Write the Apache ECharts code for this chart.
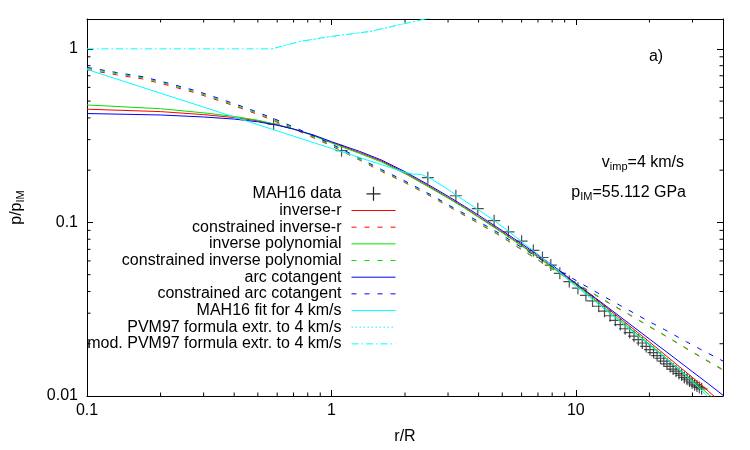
<!DOCTYPE html>
<html><head><meta charset="utf-8">
<script src="https://cdn.jsdelivr.net/npm/echarts@6/dist/echarts.min.js"></script>
<style>html,body{margin:0;padding:0;background:#fff}#c{width:750px;height:450px}</style>
</head><body><div id="c"></div>
<script>
// ---- axes ----
const xMin = 0.1, xMax = 40, yMin = 0.01, yMax = 1.486;
const xTickLabels = ['0.1', '1', '10'];
const yTickLabels = ['0.01', '0.1', '1'];
const xMinorTicks = [0.2,0.3,0.4,0.5,0.6,0.7,0.8,0.9,2,3,4,5,6,7,8,9,20,30];
const yMinorTicks = [0.02,0.03,0.04,0.05,0.06,0.07,0.08,0.09,0.2,0.3,0.4,0.5,0.6,0.7,0.8,0.9];

// ---- MAH16 data ----
const dataR = [0.58,1.10,2.48,3.23,3.97,4.63,5.3,6.0,6.7,7.3,7.9,8.6,9.4,10.2,11.0,11.7,12.4,13.1,13.8,14.5,15.2,15.9,16.6,17.3,18.0,18.7,19.4,20.1,20.8,21.5,22.2,22.9,23.6,24.3,25.0,25.7,26.4,27.1,27.8,28.5,29.2,29.9,30.6,31.3,32.0,32.7];
const dataP = [0.368,0.259,0.181,0.1425,0.120,0.1023,0.0883,0.078,0.069,0.0628,0.0568,0.0509,0.0456,0.0418,0.0380,0.0353,0.0329,0.0308,0.0290,0.0273,0.0258,0.0244,0.0232,0.0221,0.0211,0.0202,0.0193,0.0185,0.0178,0.0171,0.0165,0.0159,0.0153,0.0148,0.0143,0.0139,0.0135,0.0132,0.0128,0.0125,0.0122,0.0119,0.0116,0.0114,0.0112,0.0110];

// ---- unconstrained fits ----
const rSolid = [0.1,0.2,0.3,0.4,0.5,0.6,0.7,0.85,1.0,1.3,1.6,2.0,2.5,3.0,3.5,4.0,5.0,6.0,7.0,8.0,10,12,15,20,25,30,35,40];
const invR    = [0.449,0.435,0.418,0.402,0.385,0.365,0.345,0.316,0.289,0.253,0.226,0.193,0.162,0.139,0.122,0.108,0.0880,0.0740,0.0636,0.0557,0.0442,0.0364,0.0284,0.0205,0.0158,0.0128,0.0106,0.0090];
const invPoly = [0.475,0.452,0.428,0.408,0.388,0.366,0.345,0.315,0.287,0.250,0.223,0.191,0.160,0.138,0.121,0.107,0.0872,0.0733,0.0629,0.0550,0.0436,0.0357,0.0277,0.0199,0.0153,0.0123,0.0102,0.0087];
const arcCot  = [0.424,0.416,0.405,0.394,0.380,0.363,0.345,0.318,0.292,0.257,0.229,0.196,0.1645,0.1415,0.1240,0.1101,0.0896,0.0754,0.0649,0.0569,0.0445,0.0368,0.0290,0.0213,0.0168,0.0138,0.0117,0.0101];

// ---- constrained fits ----
const rDashed = [0.1,0.132,0.17,0.216,0.276,0.353,0.45,0.575,0.716,1.0,1.27,1.6,2.0,2.53,3.15,3.93,4.85,6.2,8,10.4,13,16.4,20,23.1,28.4,32.1,40];
const cInvR    = [0.758,0.709,0.670,0.615,0.559,0.499,0.443,0.388,0.341,0.276,0.233,0.197,0.1695,0.1422,0.1193,0.1001,0.0845,0.0676,0.0539,0.0432,0.0357,0.0296,0.0251,0.0223,0.0187,0.0169,0.0141];
const cInvPoly = [0.770,0.720,0.680,0.624,0.567,0.506,0.449,0.393,0.345,0.279,0.235,0.199,0.1706,0.143,0.120,0.1007,0.0850,0.0680,0.0542,0.0434,0.0359,0.0297,0.0252,0.0224,0.0188,0.0170,0.0142];
const cArcCot  = [0.782,0.731,0.690,0.633,0.576,0.514,0.456,0.399,0.350,0.283,0.239,0.202,0.1732,0.1452,0.1218,0.1027,0.0867,0.0697,0.0558,0.0449,0.0375,0.0313,0.0268,0.0241,0.0205,0.0187,0.0159];

// ---- MAH16 fit ----
const rFit = [0.1,0.2,0.5,1.0,2.0,2.16,2.33,2.53,3.0,3.25,3.93,4.6,5.3,6,7,8,10,12,15,20,25,30,35,40];
const mahFit = [0.761,0.555,0.366,0.267,0.1944,0.190,0.189,0.180,0.155,0.143,0.120,0.103,0.089,0.0775,0.0655,0.0565,0.0428,0.0350,0.0272,0.0196,0.0152,0.0121,0.0098,0.0082];

// ---- PVM97 ----
const rPvm = [0.57,0.65,0.75,1.0,1.44,2.0,2.6];
const pvm  = [1.0,1.05,1.105,1.18,1.26,1.40,1.52];
const rModPvm = [0.1,0.2,0.3,0.4,0.5,0.57,0.65,0.75,1.0,1.44,2.0,2.6];
const modPvm  = [1.0,1.0,1.0,1.0,1.0,1.0,1.05,1.105,1.18,1.26,1.40,1.52];

const legendNames = ['MAH16 data', 'inverse-r', 'constrained inverse-r', 'inverse polynomial',
  'constrained inverse polynomial', 'arc cotangent', 'constrained arc cotangent',
  'MAH16 fit for 4 km/s', 'PVM97 formula extr. to 4 km/s', 'mod. PVM97 formula extr. to 4 km/s'];

const FONT = "'Liberation Sans', Arial, Helvetica, sans-serif";
const zip = (a, b) => a.map((v, i) => [v, b[i]]);
const fmt = (labels) => (v) => { const s = String(+(+v).toPrecision(6)); return labels.includes(s) ? s : ''; };

function lineSeries(name, r, p, color, dash) {
  return {
    type: 'line', name, data: zip(r, p), symbol: 'none', smooth: false,
    lineStyle: { color, width: 1, type: dash || 'solid' },
    itemStyle: { color }, emphasis: { disabled: true }, animation: false
  };
}

const chart = echarts.init(document.getElementById('c'), null, { renderer: 'canvas' });

const axisCommon = {
  type: 'log', logBase: 10,
  axisLine: { show: true, lineStyle: { color: '#000', width: 1 } },
  axisTick: { show: true, inside: true, length: 6, lineStyle: { color: '#000', width: 1 } },
  splitLine: { show: false }, minorTick: { show: false }, minorSplitLine: { show: false }
};

const option = {
  animation: false,
  backgroundColor: '#fff',
  grid: { left: 87, right: 27, top: 19, bottom: 52, containLabel: false },
  xAxis: [
    Object.assign({}, axisCommon, {
      min: xMin, max: xMax, position: 'bottom',
      axisLabel: { formatter: fmt(xTickLabels), fontSize: 16, color: '#000', fontFamily: FONT, margin: 7, showMinLabel: true, showMaxLabel: true, hideOverlap: false },
      name: 'r/R', nameLocation: 'middle', nameGap: 33,
      nameTextStyle: { fontSize: 16, color: '#000', fontFamily: FONT }
    }),
    Object.assign({}, axisCommon, {
      min: xMin, max: xMax, position: 'top', axisLabel: { show: false }
    })
  ],
  yAxis: [
    Object.assign({}, axisCommon, {
      min: yMin, max: yMax, position: 'left',
      axisLabel: { formatter: fmt(yTickLabels), fontSize: 16, color: '#000', fontFamily: FONT, margin: 9, showMinLabel: true, showMaxLabel: true, hideOverlap: false },
      name: '{n|p/p}{s|IM}', nameLocation: 'middle', nameGap: 61, nameRotate: 90,
      nameTextStyle: {
        color: '#000', fontFamily: FONT,
        rich: {
          n: { fontSize: 16, lineHeight: 18, fontFamily: FONT, color: '#000' },
          s: { fontSize: 11, lineHeight: 10, verticalAlign: 'bottom', fontFamily: FONT, color: '#000' }
        }
      }
    }),
    Object.assign({}, axisCommon, {
      min: yMin, max: yMax, position: 'right', axisLabel: { show: false }
    })
  ],
  legend: {
    orient: 'vertical', right: 354, top: 185.5, align: 'right', padding: 0, itemGap: 0,
    itemWidth: 44, itemHeight: 14, selectedMode: false,
    itemStyle: { opacity: 0, color: 'rgba(0,0,0,0)', borderColor: 'rgba(0,0,0,0)', borderWidth: 0 },
    lineStyle: { width: 1 },
    textStyle: { fontFamily: FONT, fontSize: 16, color: '#000', lineHeight: 16.67, padding: [0, 5, 0, 0] },
    data: legendNames.map((n, i) => i === 0
      ? { name: n, itemStyle: { opacity: 1, color: 'rgba(0,0,0,0)', borderColor: '#222', borderWidth: 1.2 } }
      : { name: n })
  },
  graphic: [
    { type: 'text', silent: true, style: { text: 'a)', x: 656, y: 57, align: 'center', verticalAlign: 'middle', font: '16px ' + FONT, fill: '#000' } },
    { type: 'text', silent: true, style: {
      text: '{n|v}{s|imp}{n|=4 km/s}', x: 684, y: 163, align: 'right', verticalAlign: 'middle',
      rich: { n: { fontSize: 16, lineHeight: 18, fontFamily: FONT, fill: '#000' }, s: { fontSize: 11, lineHeight: 10, verticalAlign: 'bottom', fontFamily: FONT, fill: '#000' } } } },
    { type: 'text', silent: true, style: {
      text: '{n|p}{s|IM}{n|=55.112 GPa}', x: 686, y: 193, align: 'right', verticalAlign: 'middle',
      rich: { n: { fontSize: 16, lineHeight: 18, fontFamily: FONT, fill: '#000' }, s: { fontSize: 11, lineHeight: 10, verticalAlign: 'bottom', fontFamily: FONT, fill: '#000' } } } }
  ],
  series: [
    {
      type: 'scatter', name: 'MAH16 data', data: zip(dataR, dataP),
      symbol: 'path://M0,6L12,6M6,0L6,12', symbolSize: 12,
      itemStyle: { color: 'rgba(0,0,0,0)', borderColor: '#222', borderWidth: 1.2 },
      emphasis: { disabled: true }, z: 2
    },
    lineSeries('inverse-r', rSolid, invR, '#ff0000'),
    lineSeries('constrained inverse-r', rDashed, cInvR, '#ff0000', [5, 8]),
    lineSeries('inverse polynomial', rSolid, invPoly, '#00e000'),
    lineSeries('constrained inverse polynomial', rDashed, cInvPoly, '#00e000', [5, 8]),
    lineSeries('arc cotangent', rSolid, arcCot, '#0000ff'),
    lineSeries('constrained arc cotangent', rDashed, cArcCot, '#0000ff', [5, 8]),
    lineSeries('MAH16 fit for 4 km/s', rFit, mahFit, '#00ffff'),
    lineSeries('PVM97 formula extr. to 4 km/s', rPvm, pvm, '#00ffff', [1.5, 2.5]),
    lineSeries('mod. PVM97 formula extr. to 4 km/s', rModPvm, modPvm, '#00ffff', [7, 3, 1.5, 3]),
    {
      type: 'custom', name: 'xminor', xAxisIndex: 0, yAxisIndex: 0, silent: true, clip: false, z: 5,
      data: xMinorTicks.map(v => [v, yMin]),
      renderItem: (params, api) => {
        const v = api.value(0);
        const b = api.coord([v, yMin]), t = api.coord([v, yMax]);
        return { type: 'group', children: [
          { type: 'line', shape: { x1: b[0], y1: b[1], x2: b[0], y2: b[1] - 3.5 }, style: { stroke: '#000', lineWidth: 1 } },
          { type: 'line', shape: { x1: t[0], y1: t[1], x2: t[0], y2: t[1] + 3.5 }, style: { stroke: '#000', lineWidth: 1 } }
        ] };
      }
    },
    {
      type: 'custom', name: 'yminor', xAxisIndex: 0, yAxisIndex: 0, silent: true, clip: false, z: 5,
      data: yMinorTicks.map(v => [xMin, v]),
      renderItem: (params, api) => {
        const v = api.value(1);
        const l = api.coord([xMin, v]), r = api.coord([xMax, v]);
        return { type: 'group', children: [
          { type: 'line', shape: { x1: l[0], y1: l[1], x2: l[0] + 3.5, y2: l[1] }, style: { stroke: '#000', lineWidth: 1 } },
          { type: 'line', shape: { x1: r[0], y1: r[1], x2: r[0] - 3.5, y2: r[1] }, style: { stroke: '#000', lineWidth: 1 } }
        ] };
      }
    }
  ]
};
chart.setOption(option);
</script></body></html>
